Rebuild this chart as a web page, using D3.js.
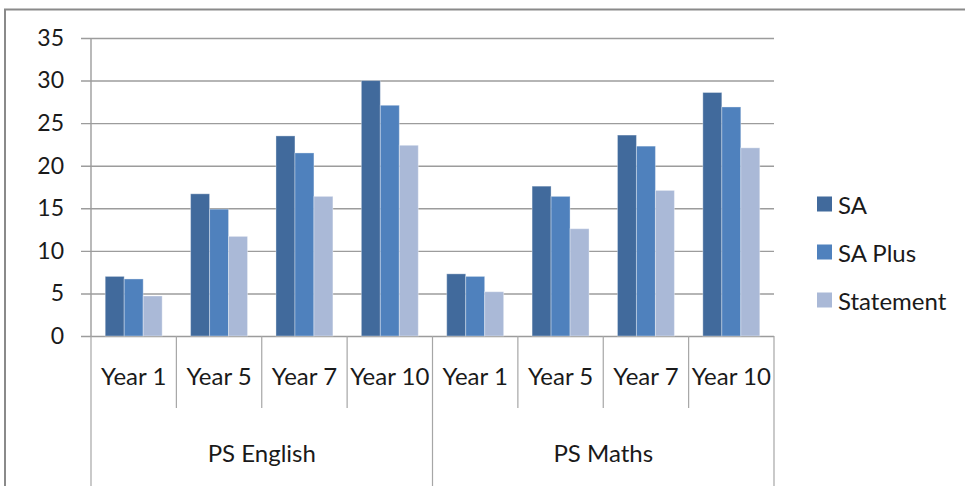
<!DOCTYPE html>
<html>
<head>
<meta charset="utf-8">
<script src="https://cdn.jsdelivr.net/npm/d3@7"></script>
<style>
  html, body { margin: 0; padding: 0; background: #fff; }
  svg { display: block; }
  text { font-family: Lato, "Open Sans", sans-serif; fill: #1a1a1a; }
</style>
</head>
<body>
<svg id="chart" width="965" height="486"></svg>
<script>
// ---- data ----
const groups = ["PS English", "PS Maths"];
const years = ["Year 1", "Year 5", "Year 7", "Year 10"];
const seriesNames = ["SA", "SA Plus", "Statement"];
const saValues        = [7.0, 16.7, 23.5, 30.0, 7.3, 17.6, 23.6, 28.6];
const saPlusValues    = [6.7, 14.9, 21.5, 27.1, 7.0, 16.4, 22.3, 26.9];
const statementValues = [4.7, 11.7, 16.4, 22.4, 5.2, 12.6, 17.1, 22.1];
const yTicks = [0, 5, 10, 15, 20, 25, 30, 35];
const colors = ["#416A9C", "#4F81BD", "#AAB9D7"];

const seriesValues = [saValues, saPlusValues, statementValues];
const categories = [];
groups.forEach(g => years.forEach(yr => categories.push({ group: g, year: yr, key: g + "|" + yr })));

const svg = d3.select("#chart");

// outer frame
svg.append("rect")
  .attr("x", 5).attr("y", 9.5).attr("width", 1100).attr("height", 600)
  .attr("fill", "none").attr("stroke", "#8a8a8a").attr("stroke-width", 2);

// scales
const plotLeft = 91, plotRight = 774, plotTop = 38, plotBottom = 336;
const y = d3.scaleLinear().domain([0, 35]).range([plotBottom, plotTop]);
const x0 = d3.scaleBand().domain(categories.map(d => d.key)).range([plotLeft, plotRight]).paddingInner(0).paddingOuter(0);
const x1 = d3.scaleBand().domain(seriesNames).range([x0.bandwidth() * 0.1665, x0.bandwidth() * 0.8335]).padding(0);

// gridlines
const grid = svg.append("g").attr("transform", `translate(${plotRight},0)`)
  .call(d3.axisLeft(y).tickValues(yTicks).tickSize(plotRight - 81).tickFormat(""));
grid.select(".domain").remove();
grid.selectAll("line").attr("stroke", "#9c9c9c").attr("stroke-width", 1.4);

// y labels
const yAx = svg.append("g").attr("transform", `translate(${plotLeft},0)`)
  .call(d3.axisLeft(y).tickValues(yTicks).tickSize(0).tickPadding(27));
yAx.select(".domain").remove();
yAx.selectAll("text").attr("font-size", 23).attr("fill", "#1a1a1a").attr("font-family", "Lato, sans-serif");

// bars
const cat = svg.append("g").selectAll("g").data(categories).join("g")
  .attr("transform", d => `translate(${x0(d.key)},0)`);
cat.selectAll("rect").data((d, i) => seriesNames.map((s, si) => ({ s, si, v: seriesValues[si][i] })))
  .join("rect")
  .attr("x", d => x1(d.s))
  .attr("width", x1.bandwidth())
  .attr("y", d => y(d.v))
  .attr("height", d => y(0) - y(d.v))
  .attr("fill", d => colors[d.si])
  .attr("stroke", "rgba(255,255,255,0.35)")
  .attr("stroke-width", 1);

// y axis line
svg.append("line").attr("x1", plotLeft).attr("x2", plotLeft).attr("y1", plotTop).attr("y2", plotBottom)
  .attr("stroke", "#9c9c9c").attr("stroke-width", 1.4);

// category separators
const lineColor = "#a6a6a6";
categories.forEach((d, i) => {
  const xx = x0(d.key);
  const isGroupEdge = i % years.length === 0;
  svg.append("line").attr("x1", xx).attr("x2", xx).attr("y1", plotBottom).attr("y2", isGroupEdge ? 490 : 408)
    .attr("stroke", lineColor).attr("stroke-width", 1.2);
});
svg.append("line").attr("x1", plotRight).attr("x2", plotRight).attr("y1", plotBottom).attr("y2", 490)
  .attr("stroke", lineColor).attr("stroke-width", 1.2);

// year labels
const xAx = svg.append("g").attr("transform", `translate(0,${plotBottom})`)
  .call(d3.axisBottom(x0).tickSize(0).tickPadding(32).tickFormat(k => k.split("|")[1]));
xAx.select(".domain").remove();
xAx.selectAll("text").attr("font-size", 24).attr("fill", "#1a1a1a").attr("font-family", "Lato, sans-serif");

// group labels
groups.forEach((g, gi) => {
  const first = x0(g + "|" + years[0]);
  const last = x0(g + "|" + years[years.length - 1]) + x0.bandwidth();
  svg.append("text").attr("x", (first + last) / 2).attr("y", 452)
    .attr("text-anchor", "middle").attr("dominant-baseline", "central")
    .attr("font-size", 24).text(g);
});

// legend
const legend = svg.append("g").selectAll("g").data(seriesNames).join("g")
  .attr("transform", (d, i) => `translate(817,${204 + i * 48})`);
legend.append("rect").attr("x", 0).attr("y", -7.5).attr("width", 15).attr("height", 15)
  .attr("fill", (d, i) => colors[i]);
legend.append("text").attr("x", 21).attr("y", 0).attr("dominant-baseline", "central")
  .attr("font-size", 24).text(d => d);
</script>
</body>
</html>
